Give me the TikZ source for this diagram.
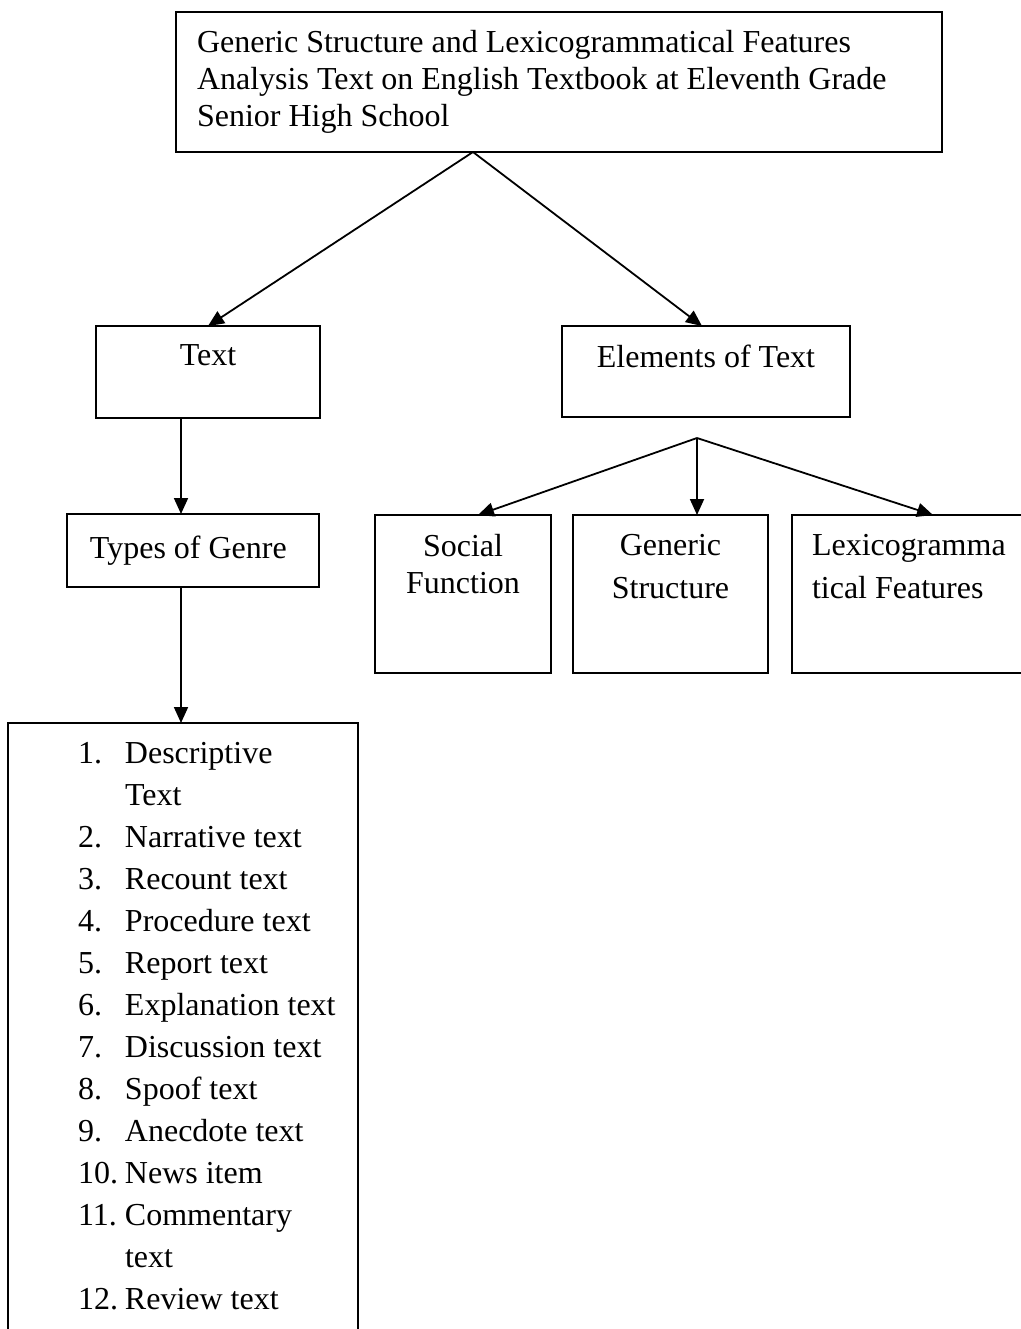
\documentclass[tikz,border=0pt]{standalone}
\usepackage{fontspec}
\setmainfont{Liberation Serif}
\usetikzlibrary{arrows.meta,positioning,calc}

\newcommand{\itm}[1]{\makebox[23.5pt][l]{#1}}

\tikzset{
  blk/.style={draw, line width=0.8pt, inner sep=0pt, outer sep=0pt},
  lbl/.style={inner sep=0pt, outer sep=0pt},
  lnk/.style={line width=0.9pt, -{Triangle[length=8pt, width=7pt]}},
}

\begin{document}
\begin{tikzpicture}[x=0.5pt, y=-0.5pt, font=\fontsize{16}{18.5}\selectfont]
  \useasboundingbox (0,0) rectangle (1021,1329);

  % Title
  \node[blk, minimum width=383pt, minimum height=70pt, text width=362pt,
        inner xsep=10.5pt, align=flush left] (title) at (559,82)
    {Generic Structure and Lexicogrammatical Features\\
     Analysis Text on English Textbook at Eleventh Grade\\
     Senior High School};

  % Second level
  \node[blk, minimum width=112pt, minimum height=46pt] (textbox) at (208,372) {};
  \node[lbl, below=9.5pt of textbox.north] (textlbl) {Text};
  \node[blk, minimum width=144pt, minimum height=45.5pt] (elements) at (706,371.5) {};
  \node[lbl, below=9.5pt of elements.north] (elemlbl) {Elements of Text};

  \coordinate (fork1) at (473,152);
  \draw[lnk] (fork1) -- (textbox.north);
  \draw[lnk] (fork1) -- ([xshift=-2pt]elements.north);

  % Left branch
  \node[blk, minimum width=126pt, minimum height=36.5pt, text width=103pt,
        inner xsep=11.5pt, align=flush left] (types) at (193,550.5) {Types of Genre};
  \node[blk, anchor=north west, minimum width=175pt, minimum height=320pt] (list) at (8,723) {};
  \node[lbl, anchor=north west, align=left, font=\fontsize{16}{21}\selectfont] (genres) at (78,742)
    {\itm{1.}Descriptive\\
     \itm{}Text\\
     \itm{2.}Narrative text\\
     \itm{3.}Recount text\\
     \itm{4.}Procedure text\\
     \itm{5.}Report text\\
     \itm{6.}Explanation text\\
     \itm{7.}Discussion text\\
     \itm{8.}Spoof text\\
     \itm{9.}Anecdote text\\
     \itm{10.}News item\\
     \itm{11.}Commentary\\
     \itm{}text\\
     \itm{12.}Review text};

  \coordinate (spine) at (181,0);
  \draw[lnk] (textbox.south -| spine) -- (types.north -| spine);
  \draw[lnk] (types.south -| spine) -- (list.north -| spine);

  % Right branch
  \node[blk, anchor=north west, minimum width=88pt, minimum height=79pt] (social) at (375,515) {};
  \node[lbl, align=center, below=9.5pt of social.north] (soclbl) {Social\\Function};
  \node[blk, anchor=north west, minimum width=97.5pt, minimum height=79pt] (generic) at (573,515) {};
  \node[lbl, align=center, font=\fontsize{16}{21.5}\selectfont,
        below=9.5pt of generic.north] (genlbl) {Generic\\Structure};
  \node[blk, anchor=north west, minimum width=130pt, minimum height=79pt] (lexico) at (792,515) {};
  \node[lbl, align=left, font=\fontsize{16}{21.5}\selectfont,
        below right=9.5pt and 10pt of lexico.north west] (lexlbl) {Lexicogramma\\tical Features};

  \coordinate (fork2) at (697,438);
  \draw[lnk] (fork2) -- ([xshift=7.5pt]social.north);
  \draw[lnk] (fork2) -- (fork2 |- generic.north);
  \draw[lnk] (fork2) -- ([xshift=5.5pt]lexico.north);
\end{tikzpicture}
\end{document}
